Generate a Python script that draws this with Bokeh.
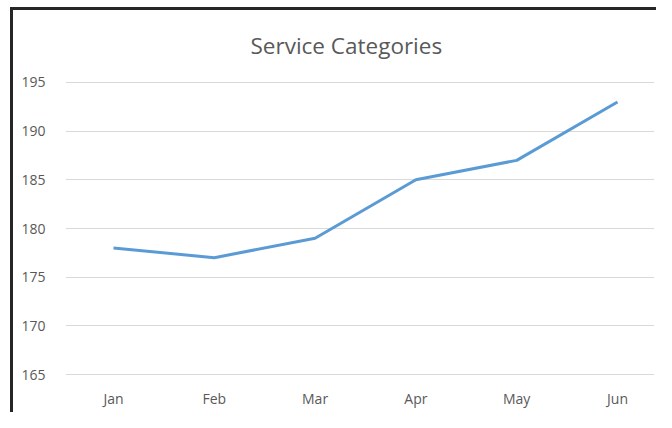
from bokeh.plotting import figure
from bokeh.models import Range1d, FixedTicker
from bokeh.embed import file_html
from bokeh.resources import INLINE

months = ["Jan", "Feb", "Mar", "Apr", "May", "Jun"]
values = [178, 177, 179, 185, 187, 193]
y_ticks = [165, 170, 175, 180, 185, 190, 195]

xs = list(range(len(months)))

p = figure(width=656, height=412, output_backend="svg", toolbar_location=None,
           x_range=Range1d(-0.476, 5.367), y_range=Range1d(164.9, 195.1),
           min_border_left=65, min_border_right=2, min_border_top=81, min_border_bottom=37,
           title="Service Categories")
p.border_fill_color = None
p.background_fill_color = "white"
p.styles = {
    "background": "linear-gradient(#262626,#262626) 10px 7px / 3px 100% no-repeat, "
                  "linear-gradient(#262626,#262626) 10px 7px / 100% 3px no-repeat, #ffffff"
}

p.title.align = "left"
p.title.offset = 185
p.title.standoff = 42
p.title.text_font = "Open Sans"
p.title.text_font_size = "22.5px"
p.title.text_font_style = "normal"
p.title.text_color = "#595959"

p.line(xs, values, line_color="#5B9BD5", line_width=3)

p.outline_line_color = None
p.xgrid.grid_line_color = None
p.ygrid.grid_line_color = "#D9D9D9"
p.ygrid.grid_line_width = 1
p.yaxis.ticker = FixedTicker(ticks=y_ticks)
p.xaxis.ticker = FixedTicker(ticks=xs)
p.xaxis.major_label_overrides = {i: m for i, m in enumerate(months)}
for ax in (p.xaxis, p.yaxis):
    ax.axis_line_color = None
    ax.major_tick_line_color = None
    ax.minor_tick_line_color = None
    ax.major_label_text_color = "#595959"
    ax.major_label_text_font = "Open Sans"
    ax.major_label_text_font_size = "14px"
p.yaxis.major_label_standoff = 14
p.xaxis.major_label_standoff = 7

open("out.html", "w").write(file_html(p, INLINE))
